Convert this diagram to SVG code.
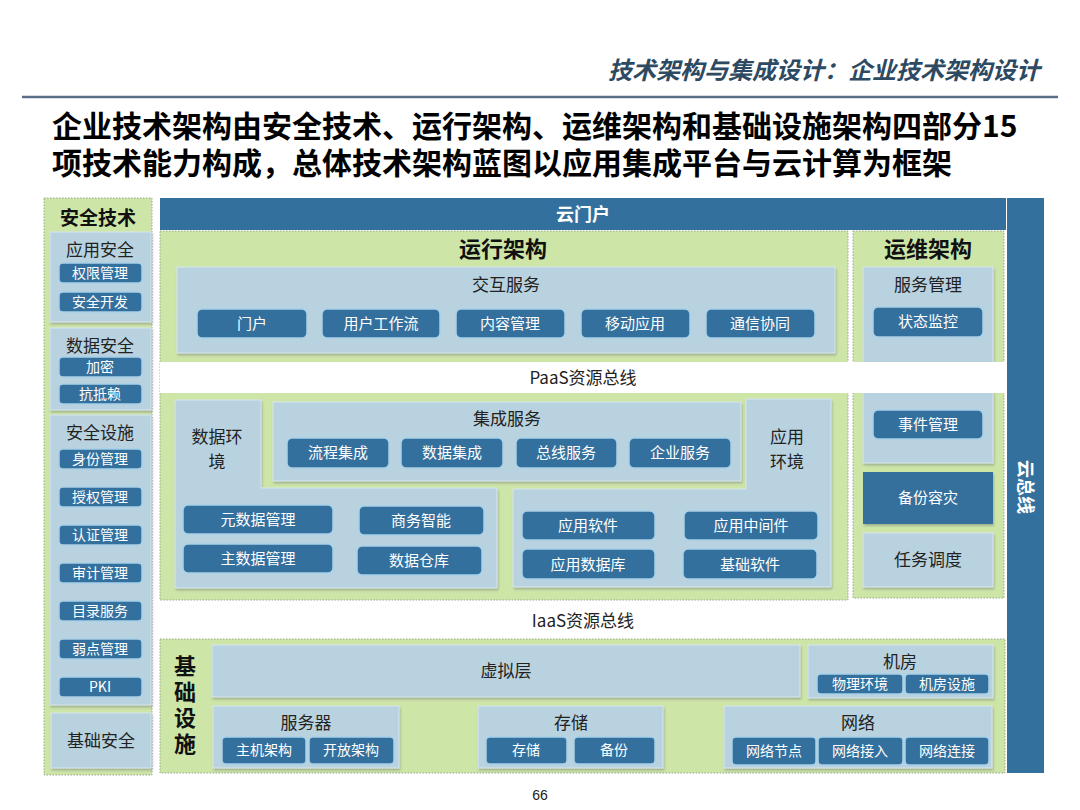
<svg xmlns="http://www.w3.org/2000/svg" width="1080" height="810" viewBox="0 0 1080 810">
<defs>
<filter id="sh" x="-10%" y="-10%" width="120%" height="130%">
<feDropShadow dx="1" dy="2" stdDeviation="1.2" flood-color="#556" flood-opacity="0.35"/>
</filter>
<style>
text{font-family:"Noto Sans CJK SC","Noto Sans",sans-serif;text-anchor:middle}
.g{fill:#cde6a8;stroke:#9aa88e;stroke-width:1;stroke-dasharray:1.5 1.5}
.b{fill:#b9d2df;stroke:#d6e6ee;stroke-width:1;filter:url(#sh)}
.d{fill:#34709d;stroke:#a8d0e8;stroke-width:1.5}
.dk{fill:#34709d}
.bt{fill:#fff;font-size:15px}
.bs{fill:#fff;font-size:14px}
.t{fill:#222;font-size:17px}
.h{fill:#111;font-size:22px;font-weight:bold}
</style>
</defs>
<rect width="1080" height="810" fill="#fff"/>

<g id="header">
<text x="1040" y="79" style="text-anchor:end;font-size:24px;font-weight:bold;font-style:italic;fill:#2e4a62">技术架构与集成设计：企业技术架构设计</text>
<line x1="22" y1="97" x2="1058" y2="97" stroke="#5b7088" stroke-width="2.5"/>
<text x="52" y="137" style="text-anchor:start;font-size:30px;font-weight:bold;fill:#000"><tspan x="52" y="137">企业技术架构由安全技术、运行架构、运维架构和基础设施架构四部分15</tspan><tspan x="52" y="174">项技术能力构成，总体技术架构蓝图以应用集成平台与云计算为框架</tspan></text>
</g>

<g id="connectors"/>

<!-- Left security column -->
<g id="security">
<rect class="g" x="44" y="198" width="108" height="577"/>
<text x="98" y="225" style="font-size:19px;font-weight:bold;fill:#111">安全技术</text>
</g>
<g id="app-security">
<rect class="b" x="50" y="232" width="101" height="90"/>
<text class="t" x="100" y="256">应用安全</text>
<rect class="d" x="59" y="263" width="83" height="20" rx="4"/><text class="bs" x="100" y="278">权限管理</text>
<rect class="d" x="59" y="292" width="83" height="20" rx="4"/><text class="bs" x="100" y="307">安全开发</text>
</g>
<g id="data-security">
<rect class="b" x="50" y="328" width="101" height="82"/>
<text class="t" x="100" y="352">数据安全</text>
<rect class="d" x="59" y="357" width="83" height="20" rx="4"/><text class="bs" x="100" y="372">加密</text>
<rect class="d" x="59" y="384" width="83" height="20" rx="4"/><text class="bs" x="100" y="399">抗抵赖</text>
</g>
<g id="security-facility">
<rect class="b" x="50" y="415" width="101" height="290"/>
<text class="t" x="100" y="439">安全设施</text>
<rect class="d" x="59" y="449" width="83" height="20" rx="4"/><text class="bs" x="100" y="464">身份管理</text>
<rect class="d" x="59" y="487" width="83" height="20" rx="4"/><text class="bs" x="100" y="502">授权管理</text>
<rect class="d" x="59" y="525" width="83" height="20" rx="4"/><text class="bs" x="100" y="540">认证管理</text>
<rect class="d" x="59" y="563" width="83" height="20" rx="4"/><text class="bs" x="100" y="578">审计管理</text>
<rect class="d" x="59" y="601" width="83" height="20" rx="4"/><text class="bs" x="100" y="616">目录服务</text>
<rect class="d" x="59" y="639" width="83" height="20" rx="4"/><text class="bs" x="100" y="654">弱点管理</text>
<rect class="d" x="59" y="677" width="83" height="20" rx="4"/><text class="bs" x="100" y="692">PKI</text>
</g>
<g id="base-security">
<rect class="b" x="51" y="713" width="100" height="55"/>
<text class="t" x="101" y="747">基础安全</text>
</g>

<!-- Cloud portal & cloud bus -->
<g id="cloud-portal">
<rect class="dk" x="160" y="198" width="846" height="32"/>
<text x="583" y="221" style="font-size:18px;font-weight:bold;fill:#fff">云门户</text>
</g>
<g id="cloud-bus">
<rect class="dk" x="1007" y="198" width="37" height="575"/>
<text transform="translate(1025,487) rotate(90)" x="0" y="6" style="font-size:18px;font-weight:bold;fill:#fff">云总线</text>
</g>

<!-- Runtime architecture -->
<g id="runtime">
<rect class="g" x="160" y="231" width="688" height="369"/>
<text class="h" x="503" y="257">运行架构</text>
</g>
<g id="ops">
<rect class="g" x="853" y="231" width="151" height="367"/>
<text class="h" x="928" y="257">运维架构</text>
</g>

<g id="interaction-service">
<rect class="b" x="177" y="267" width="658" height="86"/>
<text class="t" x="506" y="291">交互服务</text>
<rect class="d" x="197" y="309" width="110" height="29" rx="5"/><text class="bt" x="252" y="329">门户</text>
<rect class="d" x="322" y="309" width="118" height="29" rx="5"/><text class="bt" x="381" y="329">用户工作流</text>
<rect class="d" x="456" y="309" width="109" height="29" rx="5"/><text class="bt" x="510" y="329">内容管理</text>
<rect class="d" x="581" y="309" width="109" height="29" rx="5"/><text class="bt" x="635" y="329">移动应用</text>
<rect class="d" x="706" y="309" width="109" height="29" rx="5"/><text class="bt" x="760" y="329">通信协同</text>
</g>

<g id="service-mgmt">
<rect class="b" x="863" y="267" width="130" height="196"/>
<text class="t" x="928" y="291">服务管理</text>
<rect class="d" x="873" y="307" width="110" height="30" rx="5"/><text class="bt" x="928" y="327">状态监控</text>
</g>

<g id="paas-bus">
<rect x="160" y="362" width="845" height="31" fill="#fff"/>
<text class="t" x="583" y="384">PaaS资源总线</text>
</g>

<g id="event-mgmt">
<rect class="d" x="873" y="410" width="110" height="29" rx="5"/><text class="bt" x="928" y="430">事件管理</text>
</g>
<g id="backup-dr">
<rect class="dk" x="863" y="472" width="130" height="52" style="filter:url(#sh)"/>
<text class="bt" x="928" y="503">备份容灾</text>
</g>
<g id="task-scheduling">
<rect class="b" x="863" y="533" width="130" height="54"/>
<text class="t" x="928" y="566">任务调度</text>
</g>

<g id="data-env">
<path class="b" d="M175 400 H261 V488 H497 V588 H175 Z"/>
<text class="t" x="217" y="443"><tspan x="217" y="443">数据环</tspan><tspan x="217" y="468">境</tspan></text>
<rect class="d" x="183" y="505" width="150" height="29" rx="5"/><text class="bt" x="258" y="525">元数据管理</text>
<rect class="d" x="183" y="544" width="150" height="29" rx="5"/><text class="bt" x="258" y="564">主数据管理</text>
<rect class="d" x="359" y="506" width="125" height="29" rx="5"/><text class="bt" x="421" y="526">商务智能</text>
<rect class="d" x="357" y="546" width="125" height="29" rx="5"/><text class="bt" x="419" y="566">数据仓库</text>
</g>

<g id="integration-service">
<rect class="b" x="273" y="402" width="468" height="79"/>
<text class="t" x="507" y="425">集成服务</text>
<rect class="d" x="287" y="438" width="102" height="30" rx="5"/><text class="bt" x="338" y="458">流程集成</text>
<rect class="d" x="401" y="438" width="102" height="30" rx="5"/><text class="bt" x="452" y="458">数据集成</text>
<rect class="d" x="516" y="438" width="101" height="30" rx="5"/><text class="bt" x="566" y="458">总线服务</text>
<rect class="d" x="629" y="438" width="102" height="30" rx="5"/><text class="bt" x="680" y="458">企业服务</text>
</g>

<g id="app-env">
<path class="b" d="M746 399 H831 V587 H513 V489 H746 Z"/>
<text class="t" x="787" y="443"><tspan x="787" y="443">应用</tspan><tspan x="787" y="468">环境</tspan></text>
<rect class="d" x="522" y="511" width="133" height="29" rx="5"/><text class="bt" x="588" y="531">应用软件</text>
<rect class="d" x="522" y="549" width="133" height="30" rx="5"/><text class="bt" x="588" y="570">应用数据库</text>
<rect class="d" x="684" y="511" width="134" height="29" rx="5"/><text class="bt" x="751" y="531">应用中间件</text>
<rect class="d" x="683" y="549" width="134" height="30" rx="5"/><text class="bt" x="750" y="570">基础软件</text>
</g>

<g id="iaas-bus">
<text class="t" x="583" y="627">IaaS资源总线</text>
</g>

<!-- Infrastructure -->
<g id="infrastructure">
<rect class="g" x="160" y="639" width="845" height="134"/>
<text class="h" x="185" y="707" style="writing-mode:vertical-rl;letter-spacing:4px">基础设施</text>
</g>
<g id="virtual-layer">
<rect class="b" x="212" y="645" width="588" height="52"/>
<text class="t" x="506" y="677">虚拟层</text>
</g>
<g id="machine-room">
<rect class="b" x="808" y="645" width="185" height="53"/>
<text class="t" x="900" y="668">机房</text>
<rect class="d" x="817" y="674" width="86" height="20" rx="4"/><text class="bs" x="860" y="689">物理环境</text>
<rect class="d" x="905" y="674" width="84" height="20" rx="4"/><text class="bs" x="947" y="689">机房设施</text>
</g>
<g id="server">
<rect class="b" x="213" y="706" width="186" height="62"/>
<text class="t" x="306" y="729">服务器</text>
<rect class="d" x="222" y="737" width="84" height="27" rx="4"/><text class="bs" x="264" y="755">主机架构</text>
<rect class="d" x="309" y="737" width="85" height="27" rx="4"/><text class="bs" x="351" y="755">开放架构</text>
</g>
<g id="storage">
<rect class="b" x="478" y="706" width="185" height="62"/>
<text class="t" x="571" y="729">存储</text>
<rect class="d" x="486" y="737" width="81" height="27" rx="4"/><text class="bs" x="526" y="755">存储</text>
<rect class="d" x="574" y="737" width="81" height="27" rx="4"/><text class="bs" x="614" y="755">备份</text>
</g>
<g id="network">
<rect class="b" x="724" y="706" width="268" height="62"/>
<text class="t" x="858" y="729">网络</text>
<rect class="d" x="732" y="737" width="84" height="28" rx="4"/><text class="bs" x="774" y="756">网络节点</text>
<rect class="d" x="818" y="737" width="85" height="28" rx="4"/><text class="bs" x="860" y="756">网络接入</text>
<rect class="d" x="905" y="737" width="84" height="28" rx="4"/><text class="bs" x="947" y="756">网络连接</text>
</g>

<g id="page-number">
<text x="540" y="800" style="font-size:14px;fill:#222;font-family:'Liberation Sans',sans-serif">66</text>
</g>
</svg>
